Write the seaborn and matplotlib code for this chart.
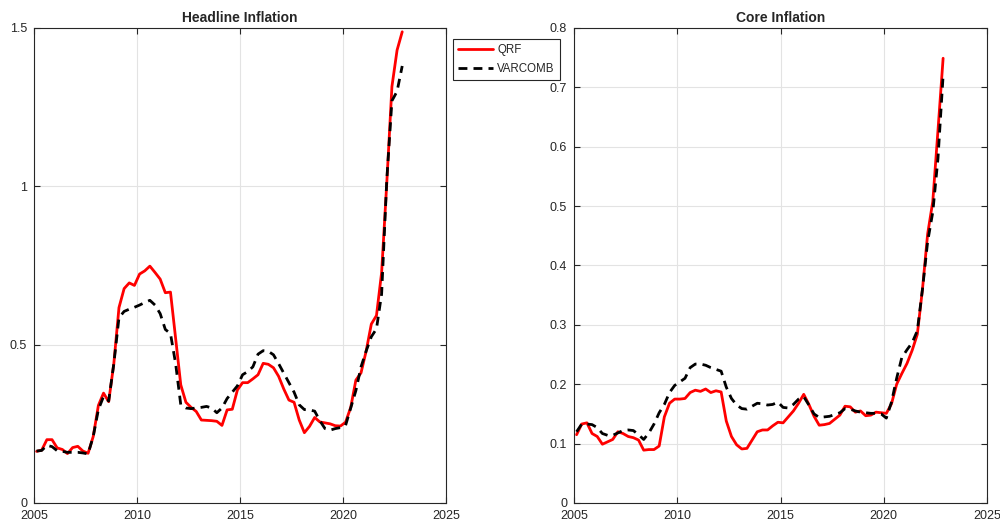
import numpy as np
import pandas as pd
import matplotlib
matplotlib.use("Agg")
import matplotlib.pyplot as plt
import seaborn as sns

# ---- data (quarterly, 2005Q1 .. 2022Q4) ----
years = np.repeat(np.arange(2005, 2023), 4)
quarters = np.tile([1, 2, 3, 4], 18)

qrf_headline = [
    0.163, 0.167, 0.200, 0.200, 0.174, 0.169, 0.156, 0.175, 0.179, 0.164,
    0.157, 0.210, 0.308, 0.347, 0.320, 0.440, 0.617, 0.677, 0.695, 0.687,
    0.723, 0.733, 0.748, 0.728, 0.707, 0.664, 0.666, 0.520, 0.373, 0.318,
    0.302, 0.289, 0.262, 0.261, 0.260, 0.258, 0.245, 0.294, 0.296, 0.357,
    0.380, 0.380, 0.392, 0.405, 0.441, 0.438, 0.427, 0.400, 0.360, 0.325,
    0.318, 0.262, 0.222, 0.242, 0.270, 0.256, 0.253, 0.250, 0.244, 0.243,
    0.255, 0.302, 0.388, 0.411, 0.480, 0.565, 0.592, 0.728, 1.010, 1.315,
    1.430, 1.488]
varcomb_headline = [
    0.164, 0.166, 0.182, 0.178, 0.165, 0.163, 0.160, 0.160, 0.160, 0.158,
    0.155, 0.210, 0.295, 0.336, 0.322, 0.440, 0.585, 0.605, 0.612, 0.618,
    0.625, 0.633, 0.640, 0.625, 0.598, 0.548, 0.535, 0.440, 0.310, 0.300,
    0.298, 0.300, 0.302, 0.305, 0.300, 0.285, 0.300, 0.330, 0.350, 0.370,
    0.405, 0.415, 0.430, 0.470, 0.481, 0.479, 0.468, 0.440, 0.410, 0.380,
    0.350, 0.310, 0.295, 0.294, 0.290, 0.260, 0.235, 0.230, 0.235, 0.238,
    0.245, 0.300, 0.355, 0.430, 0.480, 0.525, 0.550, 0.660, 1.020, 1.270,
    1.300, 1.380]
qrf_core = [
    0.115, 0.133, 0.135, 0.117, 0.112, 0.099, 0.103, 0.107, 0.120, 0.117,
    0.112, 0.110, 0.106, 0.089, 0.090, 0.090, 0.096, 0.145, 0.168, 0.175,
    0.175, 0.176, 0.186, 0.190, 0.188, 0.192, 0.186, 0.189, 0.187, 0.138,
    0.112, 0.098, 0.091, 0.092, 0.106, 0.120, 0.123, 0.123, 0.130, 0.136,
    0.135, 0.145, 0.155, 0.168, 0.183, 0.166, 0.146, 0.131, 0.132, 0.134,
    0.141, 0.148, 0.163, 0.162, 0.153, 0.155, 0.147, 0.148, 0.153, 0.152,
    0.151, 0.167, 0.200, 0.218, 0.235, 0.257, 0.284, 0.360, 0.453, 0.508,
    0.627, 0.749]
varcomb_core = [
    0.120, 0.133, 0.133, 0.132, 0.127, 0.117, 0.114, 0.114, 0.118, 0.122,
    0.123, 0.122, 0.115, 0.107, 0.118, 0.133, 0.152, 0.166, 0.186, 0.198,
    0.204, 0.210, 0.228, 0.234, 0.234, 0.232, 0.228, 0.225, 0.222, 0.195,
    0.176, 0.165, 0.159, 0.158, 0.163, 0.168, 0.167, 0.165, 0.166, 0.170,
    0.161, 0.160, 0.166, 0.175, 0.179, 0.165, 0.150, 0.144, 0.145, 0.146,
    0.149, 0.152, 0.159, 0.158, 0.155, 0.153, 0.152, 0.151, 0.151, 0.150,
    0.143, 0.170, 0.210, 0.245, 0.258, 0.270, 0.290, 0.360, 0.440, 0.490,
    0.580, 0.720]

series_names = ["QRF", "VARCOMB"]
titles = ["Headline Inflation", "Core Inflation"]
x_ticks = [2005, 2010, 2015, 2020, 2025]
y_ticks_left = [0, 0.5, 1, 1.5]
y_ticks_left_labels = ["0", "0.5", "1", "1.5"]
y_ticks_right = [0, 0.1, 0.2, 0.3, 0.4, 0.5, 0.6, 0.7, 0.8]
y_ticks_right_labels = ["0", "0.1", "0.2", "0.3", "0.4", "0.5", "0.6", "0.7", "0.8"]

date = years + (quarters - 0.5) / 4.0

def long_df(a, b):
    return pd.concat([
        pd.DataFrame({"date": date, "value": a, "model": series_names[0]}),
        pd.DataFrame({"date": date, "value": b, "model": series_names[1]}),
    ], ignore_index=True)

df_head = long_df(qrf_headline, varcomb_headline)
df_core = long_df(qrf_core, varcomb_core)

# ---- style ----
sns.set_style("ticks")
plt.rcParams["font.family"] = ["Liberation Sans", "DejaVu Sans"]
plt.rcParams["axes.edgecolor"] = "#262626"
plt.rcParams["xtick.direction"] = "in"
plt.rcParams["ytick.direction"] = "in"

fig = plt.figure(figsize=(10, 5.22), dpi=100)
ax1 = fig.add_axes([0.034, 0.0364, 0.412, 0.910])
ax2 = fig.add_axes([0.574, 0.0364, 0.413, 0.910])

palette = {"QRF": "#ff0000", "VARCOMB": "#000000"}
dashes = {"QRF": "", "VARCOMB": (3.2, 2.2)}

for ax, df, title, yt, ytl, ylim in [
    (ax1, df_head, titles[0], y_ticks_left, y_ticks_left_labels, (0, 1.5)),
    (ax2, df_core, titles[1], y_ticks_right, y_ticks_right_labels, (0, 0.8)),
]:
    sns.lineplot(data=df, x="date", y="value", hue="model", style="model",
                 palette=palette, dashes=dashes, linewidth=2.0, ax=ax,
                 legend=(ax is ax1))
    ax.set_xlim(2005, 2025)
    ax.set_ylim(*ylim)
    ax.set_xticks(x_ticks)
    ax.set_xticklabels([str(t) for t in x_ticks])
    ax.set_yticks(yt)
    ax.set_yticklabels(ytl)
    ax.set_xlabel("")
    ax.set_ylabel("")
    ax.set_title(title, fontsize=10, fontweight="bold", pad=4)
    ax.grid(True, color="#e3e3e3", linewidth=0.8)
    ax.set_axisbelow(True)
    ax.tick_params(axis="both", labelsize=9, length=4, width=0.8,
                   colors="#262626", top=True, right=True)
    ax.tick_params(axis="x", pad=5)
    ax.tick_params(axis="y", pad=5)
    for s in ax.spines.values():
        s.set_visible(True)
        s.set_linewidth(0.8)

handles, labels = ax1.get_legend_handles_labels()
ax1.get_legend().remove()
leg = fig.legend(handles, labels, loc="upper left", bbox_to_anchor=(0.453, 0.925),
                 frameon=True, fancybox=False, edgecolor="#262626", framealpha=1,
                 fontsize=8.3, handlelength=3.0, handletextpad=0.4,
                 borderpad=0.45, labelspacing=0.6, borderaxespad=0)
leg.get_frame().set_linewidth(0.8)

fig.savefig("out.png", dpi=100)
